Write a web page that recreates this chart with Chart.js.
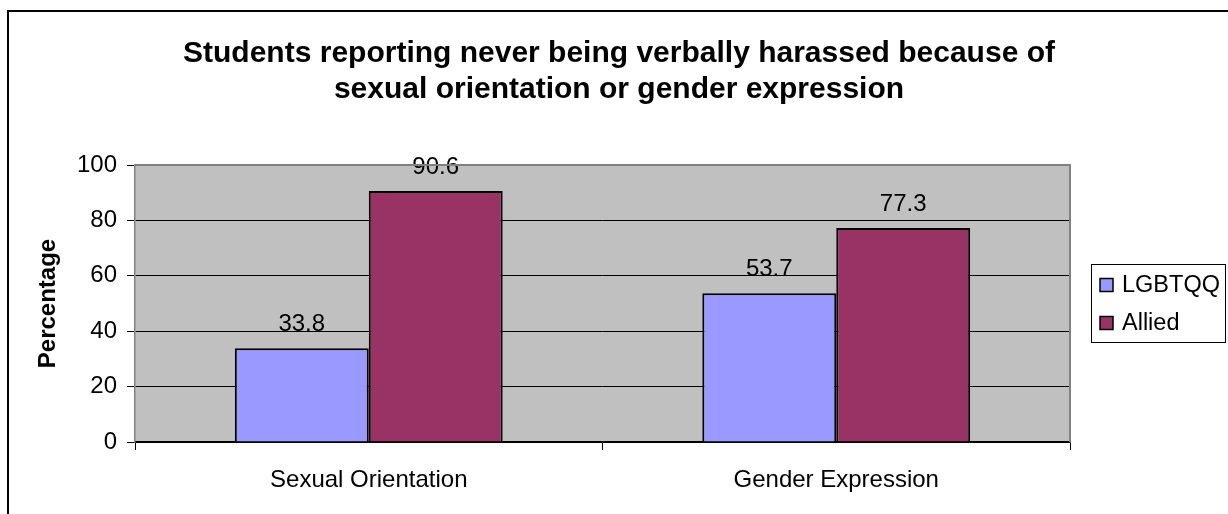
<!DOCTYPE html>
<html>

<head>
  <title>Verbal harassment survey</title>
  <script src="https://cdn.jsdelivr.net/npm/chart.js"></script>
  <style>
    body {
      margin: 0;
      background-color: #fff;
      overflow: hidden;
    }

    #frame {
      position: absolute;
      left: 7px;
      top: 10px;
      width: 1400px;
      height: 700px;
      border: 2px solid #000;
    }

    #chartBox {
      position: absolute;
      left: 0;
      top: 0;
      width: 1228px;
      height: 514px;
    }
  </style>
</head>

<body>
  <div id="frame"></div>
  <div id="chartBox">
    <canvas id="myChart" width="1228" height="514"></canvas>
  </div>

  <script>
    const titleLines = [
      'Students reporting never being verbally harassed because of',
      'sexual orientation or gender expression'
    ];
    const categories = ['Sexual Orientation', 'Gender Expression'];
    const lgbtqqValues = [33.8, 53.7];
    const alliedValues = [90.6, 77.3];
    const yTicks = [0, 20, 40, 60, 80, 100];

    const FONT = 'Arial, "Liberation Sans", sans-serif';

    // grey plot area plus its top/right frame
    const plotBackground = {
      id: 'plotBackground',
      beforeDraw(chart) {
        const { ctx, chartArea: a } = chart;
        ctx.save();
        ctx.fillStyle = '#C0C0C0';
        ctx.fillRect(a.left, a.top, a.right - a.left, a.bottom - a.top);
        ctx.restore();
      },
      afterDraw(chart) {
        const { ctx, chartArea: a } = chart;
        ctx.save();
        ctx.strokeStyle = '#808080';
        ctx.lineWidth = 2;
        ctx.beginPath();
        ctx.moveTo(a.left, a.top);
        ctx.lineTo(a.right, a.top);
        ctx.lineTo(a.right, a.bottom);
        ctx.stroke();
        ctx.restore();
      }
    };

    // value above each bar
    const barLabels = {
      id: 'barLabels',
      afterDatasetsDraw(chart) {
        const ctx = chart.ctx;
        ctx.save();
        ctx.font = '24px ' + FONT;
        ctx.fillStyle = '#000';
        ctx.textAlign = 'center';
        ctx.textBaseline = 'alphabetic';
        chart.data.datasets.forEach((ds, i) => {
          chart.getDatasetMeta(i).data.forEach((bar, j) => {
            ctx.fillText(ds.data[j].toFixed(1), bar.x, bar.y - 17);
          });
        });
        ctx.restore();
      }
    };

    // boxed legend to the right of the plot
    const boxLegend = {
      id: 'boxLegend',
      afterDraw(chart) {
        const ctx = chart.ctx;
        const left = chart.chartArea.right + 21;
        const top = 264, width = 134, height = 78;
        ctx.save();
        ctx.strokeStyle = '#000';
        ctx.lineWidth = 1;
        ctx.strokeRect(left + 0.5, top + 0.5, width, height);
        ctx.font = '23.5px ' + FONT;
        ctx.textBaseline = 'middle';
        ctx.textAlign = 'left';
        chart.data.datasets.forEach((ds, i) => {
          const cy = top + 21 + i * 38;
          ctx.fillStyle = ds.backgroundColor;
          ctx.fillRect(left + 9, cy - 6.5, 13, 13);
          ctx.lineWidth = 1.5;
          ctx.strokeRect(left + 9, cy - 6.5, 13, 13);
          ctx.fillStyle = '#000';
          ctx.fillText(ds.label, left + 31, cy + 1);
        });
        ctx.restore();
      }
    };

    const ctx = document.getElementById('myChart').getContext('2d');
    new Chart(ctx, {
      type: 'bar',
      data: {
        labels: categories,
        datasets: [{
          label: 'LGBTQQ',
          data: lgbtqqValues,
          backgroundColor: '#9999FF',
          borderColor: '#000',
          borderWidth: 2,
          categoryPercentage: 0.573,
          barPercentage: 1.0
        },
        {
          label: 'Allied',
          data: alliedValues,
          backgroundColor: '#993366',
          borderColor: '#000',
          borderWidth: 2,
          categoryPercentage: 0.573,
          barPercentage: 1.0
        }
        ]
      },
      options: {
        responsive: false,
        animation: false,
        layout: {
          padding: { left: 10, right: 0, top: 0, bottom: 0 }
        },
        scales: {
          x: {
            grid: {
              drawOnChartArea: false,
              drawTicks: true,
              tickLength: 8,
              tickColor: '#000'
            },
            border: { color: '#000', width: 1.5 },
            ticks: {
              color: '#000',
              padding: 15.5,
              font: { family: FONT, size: 24 }
            },
            afterFit(scale) {
              scale.height = 72;
            }
          },
          y: {
            min: 0,
            max: 100,
            afterBuildTicks(scale) {
              scale.ticks = yTicks.map(v => ({ value: v }));
            },
            grid: {
              color: (c) => c.tick && c.tick.value === 100 ? '#808080' : '#000',
              tickLength: 8,
              tickColor: '#000'
            },
            border: { color: '#808080', width: 1.5 },
            ticks: {
              color: '#000',
              padding: 10,
              font: { family: FONT, size: 24 }
            },
            title: {
              display: true,
              text: 'Percentage',
              color: '#000',
              padding: { top: 24, bottom: 0 },
              font: { family: FONT, size: 24, weight: 'bold' }
            },
            afterFit(scale) {
              scale.width = 125;
            }
          },
          // empty strip on the right that holds the legend
          legendSpace: {
            position: 'right',
            display: true,
            grid: { display: false },
            border: { display: false },
            ticks: { display: false },
            afterFit(scale) {
              scale.width = 158;
            }
          }
        },
        plugins: {
          legend: { display: false },
          tooltip: { enabled: false },
          title: {
            display: true,
            text: titleLines,
            color: '#000',
            padding: { top: 36, bottom: 57 },
            font: { family: FONT, size: 30, weight: 'bold', lineHeight: 1.2 }
          }
        }
      },
      plugins: [plotBackground, barLabels, boxLegend]
    });
  </script>
</body>

</html>
